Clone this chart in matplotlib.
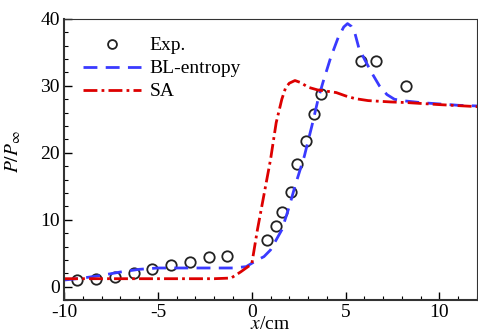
import numpy as np
import matplotlib
matplotlib.use('Agg')
from matplotlib import pyplot as plt
from matplotlib.ticker import MultipleLocator

plt.rcParams['font.family'] = ['Liberation Serif', 'DejaVu Serif']
plt.rcParams['mathtext.fontset'] = 'stix'
plt.rcParams['axes.unicode_minus'] = False

# experiment
exp_x = [-9.3, -8.3, -7.3, -6.3, -5.3, -4.3, -3.3, -2.3, -1.3,
         0.8, 1.3, 1.6, 2.1, 2.4, 2.9, 3.3, 3.7, 5.8, 6.6, 8.2]
exp_y = [1.0, 1.2, 1.5, 2.1, 2.7, 3.3, 3.7, 4.5, 4.6,
         7.0, 9.0, 11.2, 14.2, 18.4, 21.8, 25.8, 28.8, 33.7, 33.7, 30.0]

# BL-entropy model
bl_x = [-10, -9, -8, -7, -6, -5, -4, -3, -2, -1, -0.3, 0, 0.3, 0.65, 1.0,
        1.2, 1.6, 2.0, 2.3, 2.8, 3.2, 3.55, 3.8, 4.2, 4.6, 4.9, 5.1, 5.3,
        5.5, 5.7, 6.0, 6.4, 6.8, 7.2, 7.6, 8.0, 9.0, 10, 11, 12]
bl_y = [1.0, 1.3, 1.7, 2.2, 2.6, 2.8, 2.8, 2.8, 2.8, 2.8, 3.0, 3.5, 4.0, 4.5, 5.5,
        6.5, 8.5, 12.0, 15.0, 19.5, 24.0, 28.2, 30.6, 34.2, 37.2, 38.8, 39.3, 38.9,
        37.8, 35.7, 34.0, 31.9, 30.0, 28.7, 28.0, 27.8, 27.5, 27.3, 27.1, 27.0]

# SA model
sa_x = [-10, -8, -6, -4, -2, -1.1, -0.6, 0, 0.1, 0.3, 0.6, 1.0, 1.3, 1.6,
        1.8, 2.0, 2.3, 2.6, 3.0, 3.5, 4.0, 4.5, 5.0, 5.5, 6.2, 7.4, 8.3, 10, 12]
sa_y = [1.2, 1.2, 1.2, 1.2, 1.2, 1.3, 2.2, 3.4, 5.1, 8.5, 13.0, 19.0, 24.5, 28.0,
        29.7, 30.4, 30.8, 30.5, 29.8, 29.4, 29.2, 29.0, 28.5, 28.1, 27.8, 27.6, 27.5, 27.2, 26.9]

fig = plt.figure(figsize=(4.78, 3.32), dpi=100)
ax = fig.add_axes([0.134, 0.096, 0.864, 0.847])

ax.plot(exp_x, exp_y, 'o', ms=7.5, mfc='none', mec='#222222', mew=1.3, label='Exp.')
ax.plot(bl_x, bl_y, '--', color='#3a3aff', lw=2, dashes=(5, 3), label='BL-entropy')
ax.plot(sa_x, sa_y, '-.', color='#dd0000', lw=2, dashes=(5, 1.5, 1, 1.5), label='SA')

ax.set_xlim(-10, 12)
ax.set_ylim(-2, 40)
ax.xaxis.set_major_locator(MultipleLocator(5))
ax.xaxis.set_minor_locator(MultipleLocator(1))
ax.yaxis.set_major_locator(MultipleLocator(10))
ax.yaxis.set_minor_locator(MultipleLocator(2))
ax.tick_params(which='both', direction='in', labelsize=14, top=False, right=False)
ax.tick_params(which='major', length=6, width=1, pad=3)
ax.tick_params(which='minor', length=3, width=0.8)
for s in ax.spines.values():
    s.set_color('#333333')
ax.spines['bottom'].set_linewidth(1.5)
ax.spines['left'].set_linewidth(1.5)

# x label sits tight under the tick labels
ax.set_xlabel(r'$x$/cm', fontsize=14)
ax.xaxis.set_label_coords(0.5, -0.058)
ax.set_ylabel(r'$P/P_{\infty}$', fontsize=14)
ax.yaxis.set_label_coords(-0.1, 0.53)

leg = ax.legend(loc='upper left', bbox_to_anchor=(0.012, 0.985), frameon=False,
                fontsize=14, handlelength=3.0, handletextpad=0.45,
                labelspacing=0.28, markerscale=0.85, borderaxespad=0.3)

fig.savefig('out.png', dpi=100)
